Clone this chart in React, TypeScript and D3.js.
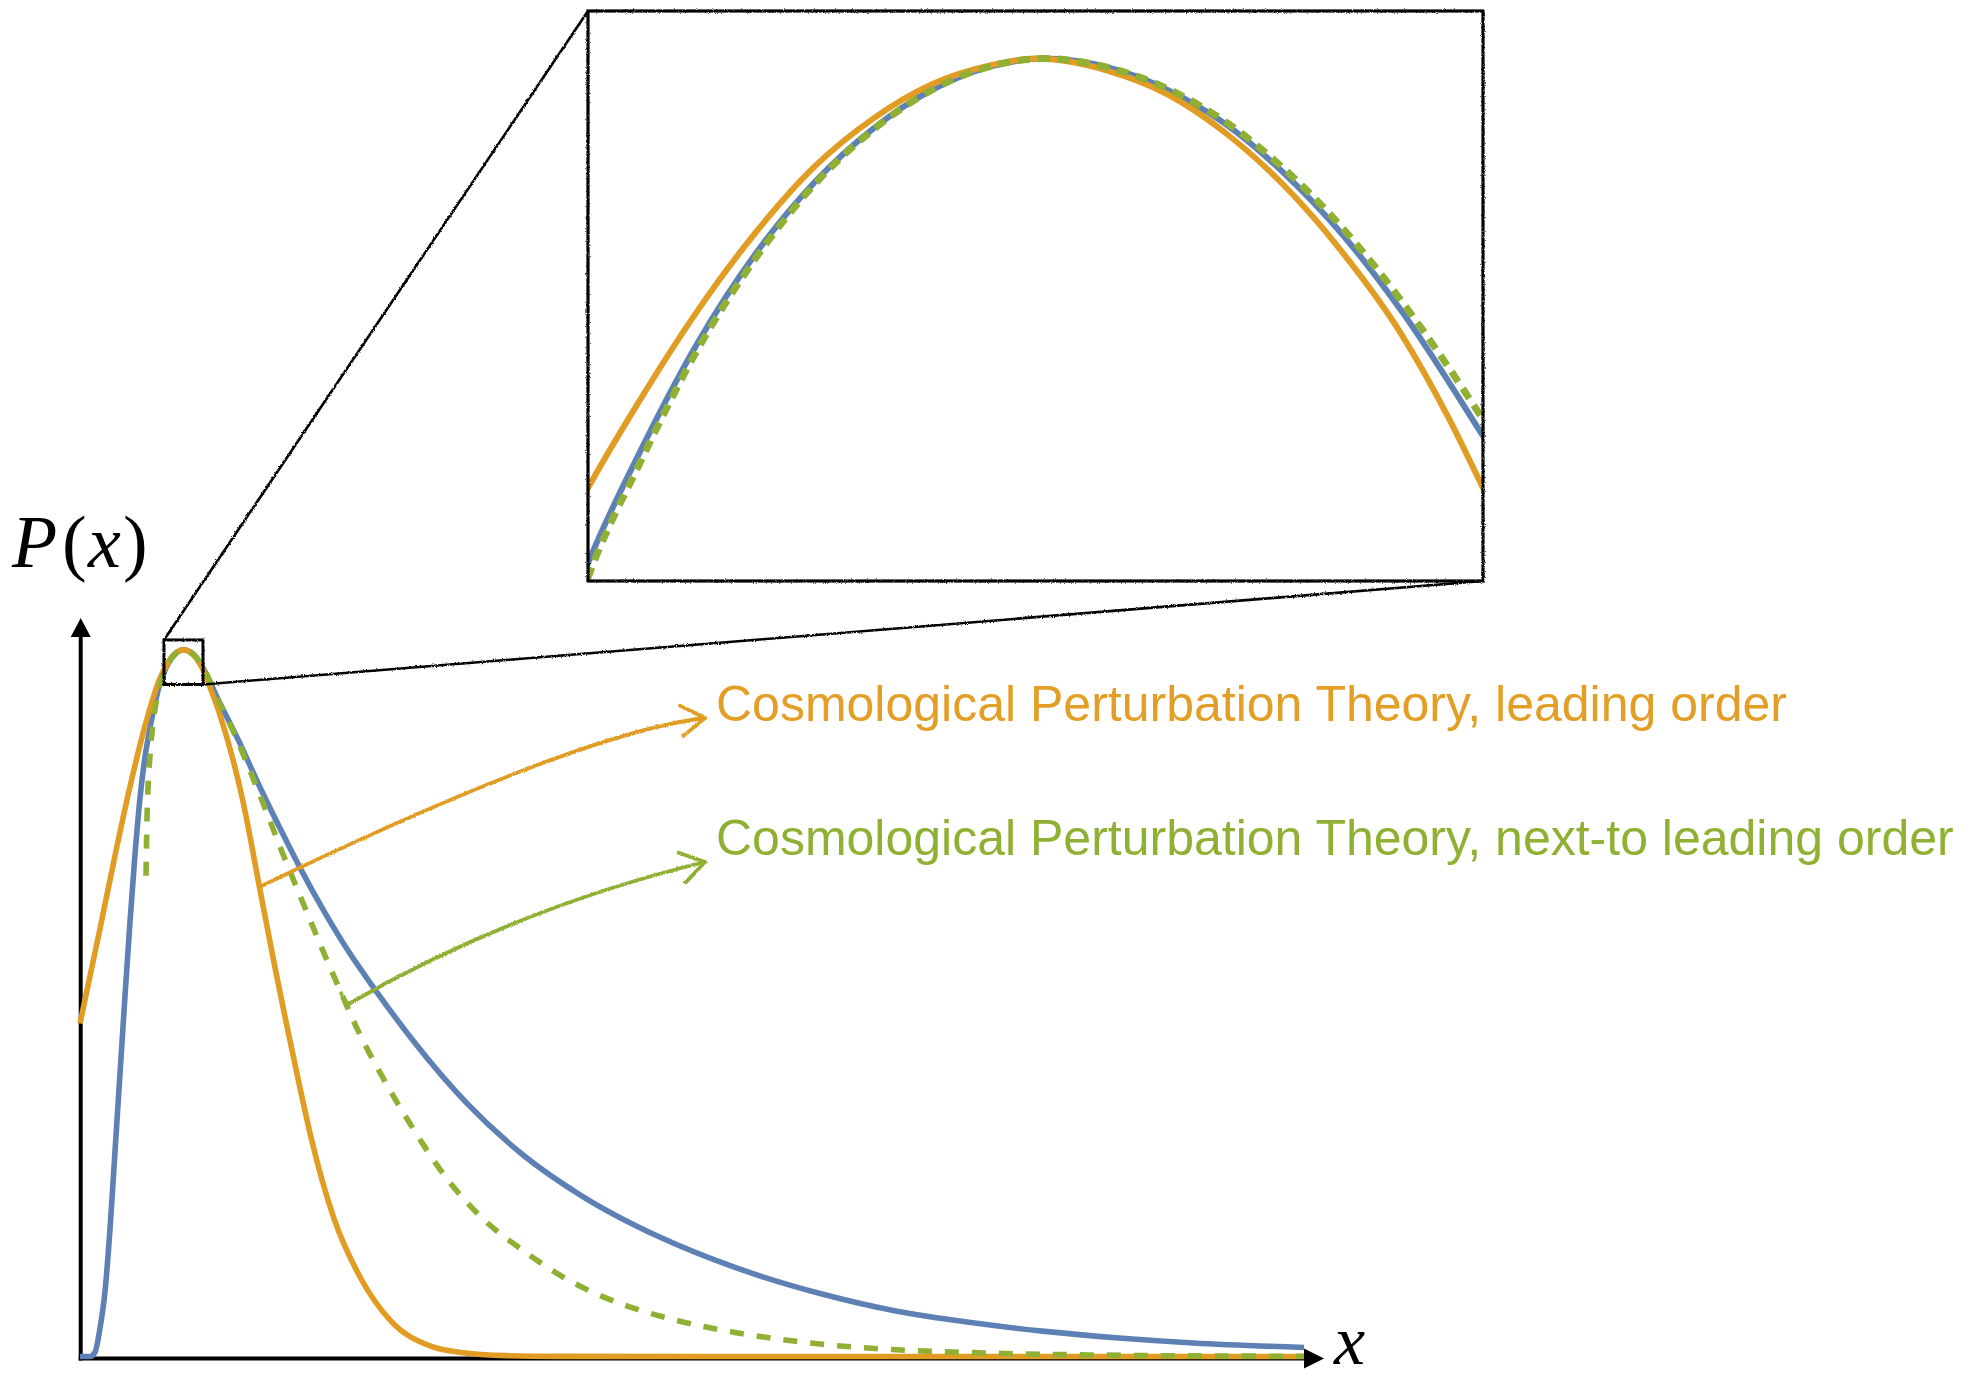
import React from "react";
import * as d3 from "d3";

// ---- P(x) curves, x in arbitrary units (0..10), P normalised so the peak is ~1 ----

// Cosmological Perturbation Theory, leading order
const loX = [
  0, 0.1634, 0.3023, 0.4085, 0.5392,
  0.657, 0.6785, 0.7029, 0.7273, 0.7517, 0.776, 0.8006, 0.8249, 0.8435, 0.8737, 0.8983, 0.9226, 0.9468, 0.9714, 0.9957, 1.0155, 1.03,
  1.152, 1.3317, 1.4706, 1.5931, 1.6993, 1.7974, 1.8873, 2.0752, 2.2958, 2.5408, 2.8595, 3.1699, 3.4804, 3.9216, 5.0654, 10,
];
const loP = [
  0.471, 0.605, 0.722, 0.806, 0.897,
  0.9608, 0.9687, 0.9769, 0.984, 0.9899, 0.9942, 0.9973, 0.999, 0.9996, 0.9985, 0.9964, 0.9929, 0.9882, 0.9821, 0.9748, 0.9672, 0.9608,
  0.903, 0.785, 0.66, 0.55, 0.46, 0.38, 0.31, 0.195, 0.11, 0.05, 0.015, 0.0045, 0.0012, 0.0002, 0, 0,
];

// Full distribution (blue)
const fullX = [
  0, 0.0817, 0.1225, 0.1634, 0.2042, 0.2451, 0.2859, 0.3268, 0.3676, 0.4085, 0.4493, 0.4902, 0.531, 0.5719, 0.6127,
  0.657, 0.6785, 0.7029, 0.7273, 0.7517, 0.776, 0.8006, 0.8249, 0.8469, 0.8737, 0.8983, 0.9226, 0.9468, 0.9714, 0.9957, 1.03,
  1.1356, 1.2990, 1.4624, 1.6258, 1.7892, 2.0098, 2.1977, 2.4101, 2.7206, 3.1618, 3.6275, 4.1013, 4.7222, 5.3513, 6.0702, 6.6748, 7.2794, 7.884, 8.4886, 9.0931, 10,
];
const fullP = [
  0, 0, 0.006, 0.04, 0.092, 0.18, 0.29, 0.4, 0.51, 0.615, 0.71, 0.79, 0.848, 0.889, 0.924,
  0.954, 0.964, 0.974, 0.9821, 0.9885, 0.9933, 0.9968, 0.9989, 0.9996, 0.9988, 0.9968, 0.9937, 0.9893, 0.9837, 0.9769, 0.9655,
  0.927, 0.87, 0.808, 0.75, 0.694, 0.625, 0.572, 0.519, 0.447, 0.358, 0.284, 0.227, 0.17, 0.126, 0.088, 0.064, 0.048, 0.0355, 0.0262, 0.0192, 0.0127,
];

// Cosmological Perturbation Theory, next-to leading order
const nloX = [
  0.5392, 0.5474, 0.5719, 0.5964, 0.6250,
  0.657, 0.6785, 0.7029, 0.7273, 0.7517, 0.776, 0.8006, 0.8249, 0.8469, 0.8737, 0.8983, 0.9226, 0.9468, 0.9714, 0.9957, 1.03,
  1.1356, 1.2745, 1.3807, 1.5196, 1.6503, 1.8137, 1.9771, 2.1569, 2.2549, 2.4755, 2.7206, 2.9739, 3.2843, 3.6275, 3.9706, 4.4118, 4.8775, 5.3513, 5.8497, 6.0702, 6.6748, 7.2794, 7.884, 8.7337, 10,
];
const nloP = [
  0.68, 0.761, 0.85, 0.895, 0.928,
  0.9527, 0.963, 0.9734, 0.9817, 0.9883, 0.9932, 0.9968, 0.9989, 0.9996, 0.9988, 0.9969, 0.9939, 0.9897, 0.9843, 0.9778, 0.967,
  0.926, 0.876, 0.832, 0.772, 0.714, 0.645, 0.577, 0.505, 0.467, 0.394, 0.3225, 0.257, 0.196, 0.149, 0.11, 0.075, 0.051, 0.034, 0.0215, 0.0172, 0.0095, 0.0055, 0.0031, 0.0013, 0.0003,
];

const seriesNames = [
  "Cosmological Perturbation Theory, leading order",
  "Cosmological Perturbation Theory, next-to leading order",
];

// magnified window around the peak, and the box that marks it on the main plot
const insetWinX = [0.657, 1.03];
const insetWinY = [0.9524, 1.0039];
const markWinX = [0.686, 1.005];
const markWinY = [0.9505, 1.0135];

const BLUE = "#5E81B5";
const ORANGE = "#E19C24";
const GREEN = "#8FB032";

type Pt = [number, number];
const zipPts = (xs: number[], ps: number[]): Pt[] => xs.map((v, i) => [v, ps[i]] as Pt);

function valueAt(pts: Pt[], xv: number): number {
  const i = d3.bisector((d: Pt) => d[0]).left(pts, xv);
  if (i <= 0) return pts[0][1];
  if (i >= pts.length) return pts[pts.length - 1][1];
  const [x0, y0] = pts[i - 1];
  const [x1, y1] = pts[i];
  return y0 + ((y1 - y0) * (xv - x0)) / (x1 - x0);
}

export default function App() {
  const W = 1988;
  const H = 1380;

  const x = d3.scaleLinear().domain([0, 10]).range([80, 1304]);
  const y = d3.scaleLinear().domain([0, 1]).range([1356.5, 649.5]);

  const box = { left: 588, top: 11, right: 1483, bottom: 581 };
  const xi = d3.scaleLinear().domain(insetWinX).range([box.left, box.right]);
  const yi = d3.scaleLinear().domain(insetWinY).range([box.bottom, box.top]);

  const lineMain = d3
    .line<Pt>()
    .x((d) => x(d[0]))
    .y((d) => y(d[1]))
    .curve(d3.curveMonotoneX);
  const lineInset = d3
    .line<Pt>()
    .x((d) => xi(d[0]))
    .y((d) => yi(d[1]))
    .curve(d3.curveMonotoneX);

  const full = zipPts(fullX, fullP);
  const lo = zipPts(loX, loP);
  const nlo = zipPts(nloX, nloP);

  const series = [
    { key: "full", pts: full, color: BLUE, dash: undefined as string | undefined },
    { key: "lo", pts: lo, color: ORANGE, dash: undefined as string | undefined },
    { key: "nlo", pts: nlo, color: GREEN, dash: "14 13" },
  ];

  // marker box in pixel space
  const mx0 = x(markWinX[0]);
  const mx1 = x(markWinX[1]);
  const my0 = y(markWinY[1]);
  const my1 = y(markWinY[0]);

  // annotation arrows: start on a curve, end next to the label
  const labelX = 716;
  const labelBase = [721, 855];
  const arrows = [
    { pts: lo, color: ORANGE, startX: 1.466, hook: [0, 0], ctrl: [578, 733], tip: [705, 718] },
    { pts: nlo, color: GREEN, startX: 2.135, hook: [5, 12], ctrl: [515, 908], tip: [705, 862] },
  ];

  const arrowPaths = arrows.map((a) => {
    const sx = x(a.startX);
    const sy = y(valueAt(a.pts, a.startX));
    const hx = sx + a.hook[0];
    const hy = sy + a.hook[1];
    const shaft = `M${sx},${sy}L${hx},${hy}Q${a.ctrl[0]},${a.ctrl[1]} ${a.tip[0]},${a.tip[1]}`;
    const ang = Math.atan2(a.tip[1] - a.ctrl[1], a.tip[0] - a.ctrl[0]) + Math.PI;
    const len = 28;
    const spread = (33 * Math.PI) / 180;
    const a1 = [a.tip[0] + len * Math.cos(ang - spread), a.tip[1] + len * Math.sin(ang - spread)];
    const a2 = [a.tip[0] + len * Math.cos(ang + spread), a.tip[1] + len * Math.sin(ang + spread)];
    const head = `M${a1[0]},${a1[1]}L${a.tip[0]},${a.tip[1]}L${a2[0]},${a2[1]}`;
    return { shaft, head, color: a.color };
  });

  const axisX0 = 80.7;
  const axisY0 = 1358.5;
  const serif = "'Liberation Serif', 'Times New Roman', serif";

  return (
    <svg
      width={W}
      height={H}
      viewBox={`0 0 ${W} ${H}`}
      style={{ position: "absolute", left: 0, top: 0, display: "block", background: "#fff" }}
    >
      <defs>
        <filter id="grain" filterUnits="userSpaceOnUse" x="0" y="0" width={W} height={H}>
          <feTurbulence type="fractalNoise" baseFrequency="0.9" numOctaves="2" seed="4" result="noise" />
          <feDisplacementMap in="SourceGraphic" in2="noise" scale="2.6" xChannelSelector="R" yChannelSelector="G" />
        </filter>
        <clipPath id="insetClip">
          <rect x={box.left} y={box.top} width={box.right - box.left} height={box.bottom - box.top} />
        </clipPath>
      </defs>

      <rect x={0} y={0} width={W} height={H} fill="#fff" />

      {/* axes */}
      <line x1={axisX0} y1={axisY0 + 2} x2={axisX0} y2={636} stroke="#000" strokeWidth={4} />
      <polygon points={`${axisX0},618 ${axisX0 - 10},637 ${axisX0 + 10},637`} fill="#000" />
      <line x1={78.7} y1={axisY0} x2={1305} y2={axisY0} stroke="#000" strokeWidth={4} />
      <polygon points={`1304,${axisY0 - 10} 1304,${axisY0 + 10} 1324,${axisY0}`} fill="#000" />

      <text y={567} fontFamily={serif} fontSize={74} fill="#000">
        <tspan x={12} fontStyle="italic">P</tspan>
        <tspan x={62}>(</tspan>
        <tspan x={88} fontStyle="italic">x</tspan>
        <tspan x={123}>)</tspan>
      </text>
      <text x={1334} y={1364} fontFamily={serif} fontSize={70} fontStyle="italic" fill="#000">
        x
      </text>

      {/* main curves */}
      {series.map((s) => (
        <path
          key={s.key}
          d={lineMain(s.pts) || ""}
          fill="none"
          stroke={s.color}
          strokeWidth={5.6}
          strokeDasharray={s.dash}
          strokeLinecap="butt"
        />
      ))}

      {/* magnified view */}
      <g clipPath="url(#insetClip)">
        {series.map((s) => (
          <path
            key={s.key}
            d={lineInset(s.pts) || ""}
            fill="none"
            stroke={s.color}
            strokeWidth={s.dash ? 7 : 6}
            strokeDasharray={s.dash ? "12 8" : undefined}
          />
        ))}
      </g>

      {/* marker box, frame and connectors */}
      <g filter="url(#grain)" stroke="#000" fill="none">
        <rect x={mx0} y={my0} width={mx1 - mx0} height={my1 - my0} strokeWidth={3} />
        <rect
          x={box.left}
          y={box.top}
          width={box.right - box.left}
          height={box.bottom - box.top}
          strokeWidth={3.2}
        />
        <line x1={mx0} y1={my0} x2={box.left} y2={box.top} strokeWidth={2.6} />
        <line x1={mx1} y1={my1} x2={box.right} y2={box.bottom} strokeWidth={2.6} />
      </g>

      {/* annotation arrows */}
      <g filter="url(#grain)" fill="none">
        {arrowPaths.map((a, i) => (
          <g key={i} stroke={a.color} strokeWidth={3.8} strokeLinecap="round" strokeLinejoin="round">
            <path d={a.shaft} />
            <path d={a.head} />
          </g>
        ))}
      </g>

      {/* labels */}
      {seriesNames.map((name, i) => (
        <text
          key={name}
          x={labelX}
          y={labelBase[i]}
          fontFamily="'Liberation Sans', Arial, sans-serif"
          fontSize={50}
          fill={i === 0 ? "#E39E26" : GREEN}
        >
          {name}
        </text>
      ))}
    </svg>
  );
}
